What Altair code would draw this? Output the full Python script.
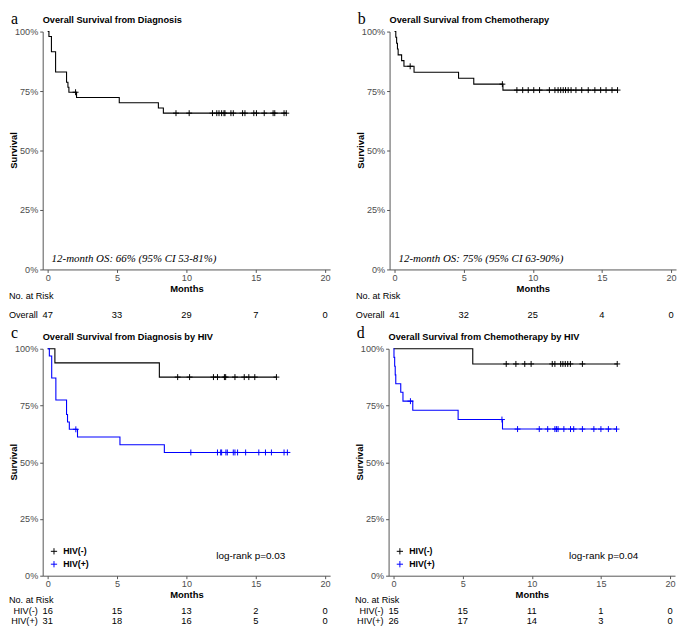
import altair as alt
import pandas as pd

FONT = "Liberation Sans"
SERIF = "Liberation Serif"
CROSS = "M-1,0L1,0M0,-1L0,1"

# ---------------- data ----------------
panel_letters = ["a", "b", "c", "d"]
panel_titles = [
    "Overall Survival from Diagnosis",
    "Overall Survival from Chemotherapy",
    "Overall Survival from Diagnosis by HIV",
    "Overall Survival from Chemotherapy by HIV",
]
os_notes = ["12-month OS: 66% (95% CI 53-81%)", "12-month OS: 75% (95% CI 63-90%)"]
logrank_notes = ["log-rank p=0.03", "log-rank p=0.04"]
groups = ["HIV(-)", "HIV(+)"]
group_colors = ["#000000", "#0000ff"]
overall_label = "Overall"
risk_header = "No. at Risk"
y_title = "Survival"
x_title = "Months"
x_ticks = [0, 5, 10, 15, 20]
y_ticks = [0, 0.25, 0.5, 0.75, 1.0]
risk_months = [0, 5, 10, 15, 20]

# panel a – overall survival from diagnosis
a_times = [0, 0.09, 0.27, 0.57, 1.36, 1.46, 1.53, 2.08, 5.16, 7.98, 8.34]
a_surv = [1.0, 0.979, 0.915, 0.830, 0.787, 0.766, 0.745, 0.723, 0.701, 0.679, 0.657]
a_end = 17.2
a_cens = [2.01, 9.25, 10.2, 11.88, 12.19, 12.35, 12.54, 12.71, 12.78, 13.21, 13.38,
          14.05, 14.22, 14.86, 15.05, 15.61, 16.25, 16.37, 17.04, 17.2]
a_risk = [47, 33, 29, 7, 0]

# panel b – overall survival from chemotherapy
b_times = [0, 0.09, 0.15, 0.21, 0.26, 0.51, 0.68, 1.41, 4.63, 5.73, 7.84]
b_surv = [1.0, 0.976, 0.951, 0.927, 0.902, 0.878, 0.854, 0.829, 0.804, 0.779, 0.754]
b_end = 16.13
b_cens = [1.13, 7.8, 8.85, 9.27, 9.67, 10.07, 10.49, 11.2, 11.6, 11.83, 12.02, 12.2,
          12.37, 12.56, 12.77, 13.12, 13.54, 14.01, 14.49, 14.91, 15.3, 15.73, 16.13]
b_risk = [41, 32, 25, 4, 0]

# panel c – from diagnosis by HIV
c_neg_times = [0, 0.52, 8.05]
c_neg_surv = [1.0, 0.9375, 0.875]
c_neg_end = 16.49
c_neg_cens = [9.37, 10.23, 11.95, 12.24, 12.74, 12.83, 13.5, 14.17, 14.5, 14.93, 16.49]
c_pos_times = [0, 0.12, 0.29, 0.59, 1.36, 1.43, 1.56, 2.15, 5.21, 8.41]
c_pos_surv = [1.0, 0.968, 0.871, 0.774, 0.710, 0.677, 0.645, 0.611, 0.577, 0.543]
c_pos_end = 17.28
c_pos_cens = [2.03, 10.32, 12.24, 12.47, 12.54, 12.85, 12.95, 13.38, 13.5, 13.69, 14.27,
              15.22, 15.7, 16.13, 17.04, 17.28]
c_risk_neg = [16, 15, 13, 2, 0]
c_risk_pos = [31, 18, 16, 5, 0]

# panel d – from chemotherapy by HIV
d_neg_times = [0, 5.73]
d_neg_surv = [1.0, 0.933]
d_neg_end = 16.18
d_neg_cens = [8.15, 8.85, 9.49, 9.95, 11.48, 11.67, 12.09, 12.25, 12.42, 12.6, 12.79,
              13.66, 16.18]
d_pos_times = [0, 0.03, 0.08, 0.12, 0.16, 0.52, 0.68, 1.39, 4.67, 7.88]
d_pos_surv = [1.0, 0.962, 0.923, 0.885, 0.846, 0.808, 0.769, 0.729, 0.688, 0.646]
d_pos_end = 16.13
d_pos_cens = [1.22, 7.84, 8.97, 10.54, 11.15, 11.67, 11.78, 11.9, 12.32, 12.8, 13.03,
              13.66, 14.49, 15.0, 15.54, 16.13]
d_risk_neg = [15, 15, 11, 1, 0]
d_risk_pos = [26, 17, 14, 3, 0]


# ---------------- helpers ----------------
def step_value(times, surv, c):
    v = surv[0]
    for t, s in zip(times, surv):
        if c >= t:
            v = s
    return v


def curve_frames(name, times, surv, end, cens):
    line = pd.DataFrame({"t": list(times) + [end], "s": list(surv) + [surv[-1]], "g": name})
    pts = pd.DataFrame({"t": cens, "s": [step_value(times, surv, c) for c in cens], "g": name})
    return line, pts


def label(text, x, y, size=9.2, align="left", baseline="middle", font=FONT,
          weight="normal", style="normal", color="black", angle=0):
    return alt.Chart(pd.DataFrame({"label": [text]})).mark_text(
        font=font, fontSize=size, align=align, baseline=baseline,
        fontWeight=weight, fontStyle=style, color=color, angle=angle,
    ).encode(x=alt.value(x), y=alt.value(y), text="label:N")


def build_panel(letter, title, curves, risk_rows, W, H, letter_y, title_y, hdr_y, row_ys,
                note=None, pval=None, pval_x=None, legend=False):
    xs = alt.Scale(domain=[-0.36, 20.36], nice=False, zero=False)
    ys = alt.Scale(domain=[0, 1], nice=False, zero=False)
    names = [c[0] for c in curves]
    cols = [c[1] for c in curves]
    frames = [curve_frames(c[0], *c[2:]) for c in curves]
    line_df = pd.concat([f[0] for f in frames], ignore_index=True)
    pt_df = pd.concat([f[1] for f in frames], ignore_index=True)

    X = alt.X("t:Q", scale=xs, axis=alt.Axis(values=x_ticks, title=x_title, grid=False,
                                              labelFlush=False, labelPadding=1,
                                              titlePadding=1))
    Y = alt.Y("s:Q", scale=ys, axis=alt.Axis(values=y_ticks, format=".0%", grid=False,
                                              title=None, labelFlush=False,
                                              labelPadding=2))
    cscale = alt.Scale(domain=names, range=cols)

    if legend:
        leg = alt.Legend(orient="none", legendX=7, legendY=H - 29, title=None,
                         symbolType=CROSS, symbolSize=40, symbolStrokeWidth=1,
                         labelFont=FONT, labelFontSize=8.8, labelFontWeight="bold",
                         labelColor="black", labelOffset=5, padding=0, rowPadding=2)
    else:
        leg = None
    color = alt.Color("g:N", scale=cscale, legend=leg)

    lines = alt.Chart(line_df).mark_line(interpolate="step-after", strokeWidth=1.1).encode(
        x=X, y=Y, color=color)
    marks = alt.Chart(pt_df).mark_point(shape=CROSS, size=36, filled=False,
                                        strokeWidth=1, opacity=1).encode(
        x=X, y=Y, color=color)

    layers = [lines, marks]

    # risk table
    layers.append(label(risk_header, -34, H + hdr_y))
    for (rlabel, counts), ry in zip(risk_rows, row_ys):
        df = pd.DataFrame({"t": risk_months, "n": [str(n) for n in counts]})
        layers.append(alt.Chart(df).mark_text(font=FONT, fontSize=9.4, align="center",
                                               baseline="middle", color="black").encode(
            x=X, y=alt.value(H + ry), text="n:N"))
        layers.append(label(rlabel, -5, H + ry, align="right"))

    layers.append(label(y_title, -25.5, H / 2, size=9.5, weight="bold", align="center",
                        baseline="alphabetic", angle=270))
    layers.append(label(letter, -32, letter_y, size=16, font=SERIF, baseline="alphabetic"))
    layers.append(label(title, 0, title_y, size=9.3, weight="bold"))
    if note:
        layers.append(label(note, 9, H - 11, size=11, font=SERIF, style="italic"))
    if pval:
        layers.append(label(pval, pval_x, H - 20, size=10, align="center"))

    return alt.layer(*layers).properties(width=W, height=H)


WA, WB = 290, 289
HT, HB = 240, 229

pa = build_panel(panel_letters[0], panel_titles[0],
                 [("Overall", "#000000", a_times, a_surv, a_end, a_cens)],
                 [(overall_label, a_risk)], WA, HT, -8, -11.5, 26.5, [46], note=os_notes[0])
pb = build_panel(panel_letters[1], panel_titles[1],
                 [("Overall", "#000000", b_times, b_surv, b_end, b_cens)],
                 [(overall_label, b_risk)], WB, HT, -8, -11.5, 26.5, [46], note=os_notes[1])
pc = build_panel(panel_letters[2], panel_titles[2],
                 [(groups[0], group_colors[0], c_neg_times, c_neg_surv, c_neg_end, c_neg_cens),
                  (groups[1], group_colors[1], c_pos_times, c_pos_surv, c_pos_end, c_pos_cens)],
                 [(groups[0], c_risk_neg), (groups[1], c_risk_pos)], WA, HB, -11, -11.5, 25,
                 [35.5, 46], pval=logrank_notes[0], pval_x=210, legend=True)
pd_ = build_panel(panel_letters[3], panel_titles[3],
                  [(groups[0], group_colors[0], d_neg_times, d_neg_surv, d_neg_end, d_neg_cens),
                   (groups[1], group_colors[1], d_pos_times, d_pos_surv, d_pos_end, d_pos_cens)],
                  [(groups[0], d_risk_neg), (groups[1], d_risk_pos)], WB, HB, -11, -11.5, 25,
                  [35.5, 46], pval=logrank_notes[1], pval_x=217, legend=True)

top = alt.hconcat(pa, pb, spacing=24).resolve_scale(color="independent")
bottom = alt.hconcat(pc, pd_, spacing=24).resolve_scale(color="independent")

chart = alt.vconcat(top, bottom, spacing=4).resolve_scale(color="independent").properties(
    padding={"left": 0, "top": 0, "right": 0, "bottom": 0},
    background="white",
).configure_view(stroke=None).configure_axis(
    grid=False, domainColor="#555555", tickColor="#555555", tickSize=3,
    domainWidth=1, tickWidth=1,
    labelColor="#4d4d4d", labelFont=FONT, labelFontSize=9.2,
    titleFont=FONT, titleFontSize=9.5, titleFontWeight="bold", titleColor="black",
)

chart.save("out.html", embed_options={"renderer": "svg", "actions": False})
